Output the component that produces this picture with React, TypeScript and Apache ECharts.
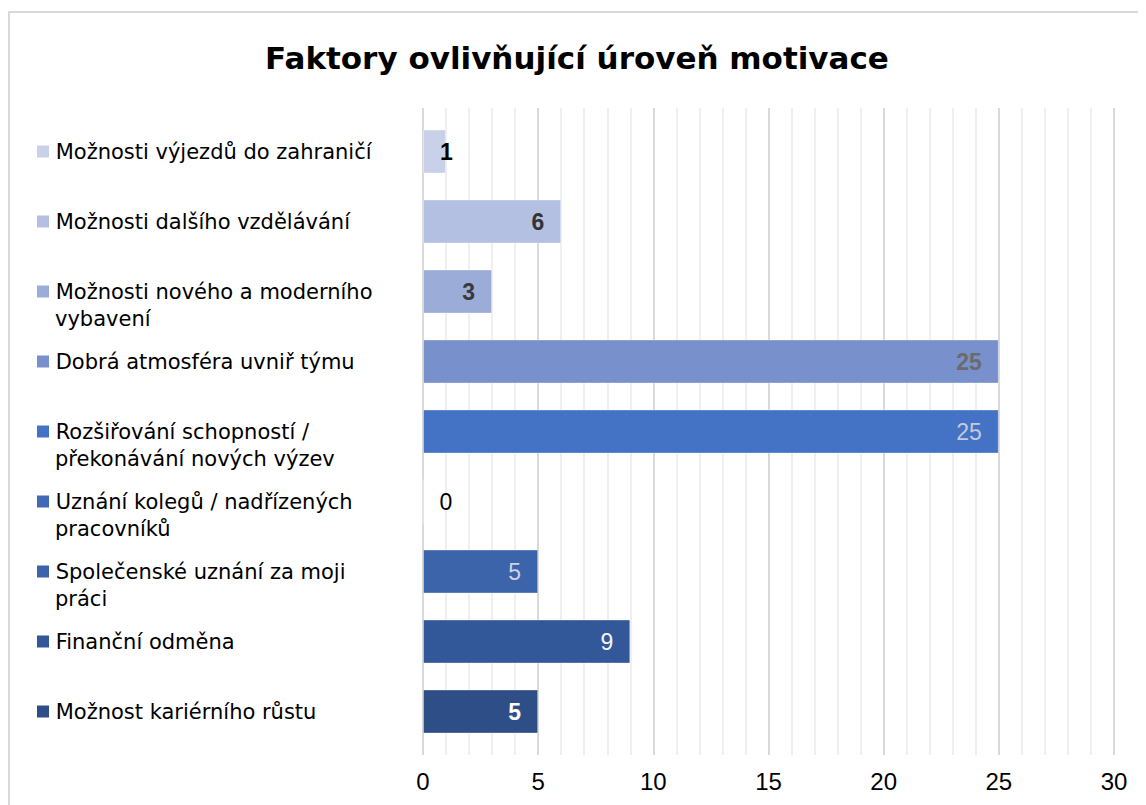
import React, { useEffect, useRef } from "react";
import * as echarts from "echarts";

const titleText = "Faktory ovlivňující úroveň motivace";

const categories = [
  "Možnosti výjezdů do zahraničí",
  "Možnosti dalšího vzdělávání",
  "Možnosti nového a moderního\nvybavení",
  "Dobrá atmosféra uvniř týmu",
  "Rozšiřování schopností /\npřekonávání nových výzev",
  "Uznání kolegů / nadřízených\npracovníků",
  "Společenské uznání za moji\npráci",
  "Finanční odměna",
  "Možnost kariérního růstu",
];

const values = [1, 6, 3, 25, 25, 0, 5, 9, 5];

const barColors = [
  "#c9d1ea",
  "#b4c0e2",
  "#9cacd9",
  "#7891cd",
  "#4472c4",
  "#4069b8",
  "#3b64ab",
  "#32589a",
  "#2d4e87",
];

const labelColors = ["#000000", "#333333", "#3a3a3a", "#6b6b6b", "#c3cbdb", "#000000", "#ccd3e3", "#f4f4f4", "#ffffff"];
const labelBold = [true, true, true, true, false, false, false, false, true];
const labelInsideLeft = [true, false, false, false, false, true, false, false, false];

const xTicks = { min: 0, max: 30, interval: 5 };

const ARIAL = "Liberation Sans, Arial, sans-serif";
const DEJAVU = "DejaVu Sans, sans-serif";

export default function App() {
  const ref = useRef<HTMLDivElement>(null);
  useEffect(() => {
    if (!ref.current) return;
    const chart = echarts.init(ref.current, null, { renderer: "svg" });
    const rich: any = {
      t: { fontSize: 21, lineHeight: 27, color: "#000", fontFamily: DEJAVU },
      ind: { width: 18, height: 12 },
    };
    barColors.forEach((c, i) => {
      rich["sq" + i] = { width: 12, height: 12, backgroundColor: c };
    });
    const option: any = {
      animation: false,
      backgroundColor: "#ffffff",
      textStyle: { fontFamily: ARIAL },
      title: {
        text: titleText,
        left: "center",
        top: 29,
        textStyle: { fontSize: 31, fontWeight: "bold", color: "#000", fontFamily: DEJAVU },
      },
      graphic: [
        {
          type: "rect",
          shape: { x: 1, y: 4, width: 3000, height: 3000 },
          style: { fill: "none", stroke: "#d9d9d9", lineWidth: 2 },
          silent: true,
          z: -1,
        },
      ],
      grid: [
        { left: 415, right: 32, top: 100, bottom: 50 },
        { left: 415, right: 32, top: 108.5, bottom: 58.5 },
      ],
      xAxis: [
        {
          type: "value",
          gridIndex: 0,
          min: xTicks.min,
          max: xTicks.max,
          interval: xTicks.interval,
          axisLine: { show: false },
          axisTick: { show: false },
          axisLabel: { fontSize: 24, color: "#000", margin: 14, fontFamily: ARIAL },
          splitLine: { show: true, lineStyle: { color: "#d9d9d9", width: 2 } },
          minorTick: { show: false, splitNumber: 5 },
          minorSplitLine: { show: true, lineStyle: { color: "#efefef", width: 2 } },
        },
        {
          type: "value",
          gridIndex: 1,
          min: xTicks.min,
          max: xTicks.max,
          interval: xTicks.interval,
          show: false,
          splitLine: { show: false },
        },
      ],
      yAxis: [
        {
          type: "category",
          gridIndex: 0,
          data: categories,
          show: false,
        },
        {
          type: "category",
          gridIndex: 1,
          inverse: true,
          data: categories,
          axisLine: { show: false },
          axisTick: { show: false },
          axisLabel: {
            align: "left",
            margin: 386,
            rich,
            formatter: (v: string, i: number) => {
              const lines = v.split("\n");
              const first = `{sq${i}|}{t| ${lines[0]}}`;
              if (lines.length === 1) return first;
              const rest = lines.slice(1).map((l) => `{ind|}{t|${l}}`);
              return [`{t| }`, first, ...rest].join("\n");
            },
          },
        },
      ],
      series: [
        {
          type: "bar",
          xAxisIndex: 1,
          yAxisIndex: 1,
          barWidth: 44,
          data: values.map((v, i) => ({
            value: v,
            itemStyle: { color: barColors[i], borderColor: "rgba(255,255,255,0.35)", borderWidth: 1 },
            label: {
              show: true,
              position: labelInsideLeft[i] ? "insideLeft" : "insideRight",
              distance: 17,
              fontSize: 23,
              fontWeight: labelBold[i] ? "bold" : "normal",
              color: labelColors[i],
              fontFamily: ARIAL,
            },
          })),
        },
      ],
    };
    chart.setOption(option);
    return () => chart.dispose();
  }, []);
  return <div ref={ref} style={{ width: 1138, height: 797 }} />;
}
